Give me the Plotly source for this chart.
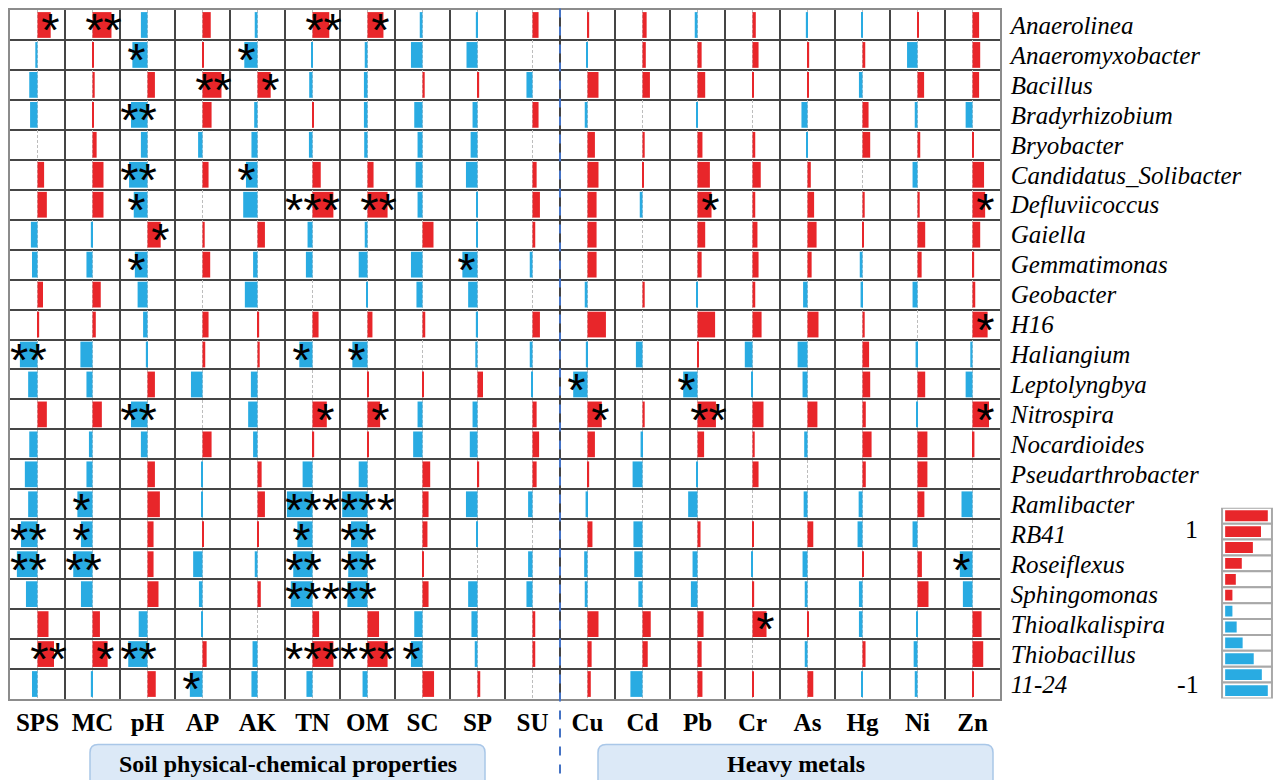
import plotly.graph_objects as go

# ---------------- data ----------------
genera = ["Anaerolinea", "Anaeromyxobacter", "Bacillus", "Bradyrhizobium", "Bryobacter",
          "Candidatus_Solibacter", "Defluviicoccus", "Gaiella", "Gemmatimonas", "Geobacter",
          "H16", "Haliangium", "Leptolyngbya", "Nitrospira", "Nocardioides",
          "Pseudarthrobacter", "Ramlibacter", "RB41", "Roseiflexus", "Sphingomonas",
          "Thioalkalispira", "Thiobacillus", "11-24"]

soil_vars = ["SPS", "MC", "pH", "AP", "AK", "TN", "OM", "SC", "SP", "SU"]
metal_vars = ["Cu", "Cd", "Pb", "Cr", "As", "Hg", "Ni", "Zn"]

# correlation coefficients, one row per genus (soil properties)
soil_corr = [
    [0.48, 0.69, -0.24, 0.30, -0.10, 0.61, 0.58, -0.10, -0.06, 0.22],
    [-0.08, 0.05, -0.55, 0.03, -0.48, -0.03, -0.10, -0.42, -0.40, 0.00],
    [-0.30, 0.08, 0.27, 0.69, 0.48, -0.12, -0.13, 0.08, 0.06, -0.22],
    [-0.27, 0.04, -0.60, 0.33, -0.12, 0.04, -0.13, -0.30, -0.18, 0.22],
    [0.00, 0.15, -0.24, -0.16, -0.22, -0.13, -0.12, -0.18, -0.25, 0.00],
    [0.24, 0.40, -0.67, 0.22, -0.42, 0.30, 0.22, -0.25, -0.42, 0.15],
    [0.34, 0.40, -0.50, 0.00, -0.52, 0.76, 0.73, -0.18, -0.03, 0.27],
    [-0.24, -0.06, 0.48, 0.08, 0.27, -0.18, -0.10, 0.40, -0.03, 0.10],
    [-0.20, -0.22, -0.46, 0.28, -0.16, -0.24, -0.32, -0.42, -0.55, -0.10],
    [0.20, 0.30, -0.36, 0.00, -0.46, 0.00, -0.04, -0.22, -0.34, 0.00],
    [0.06, 0.12, -0.16, 0.22, 0.06, 0.22, 0.18, 0.10, -0.06, 0.27],
    [-0.64, -0.44, -0.06, 0.10, 0.08, -0.48, -0.55, 0.00, -0.08, -0.10],
    [-0.34, -0.22, 0.27, -0.42, -0.24, 0.00, 0.05, 0.05, 0.20, -0.03],
    [0.34, 0.34, -0.60, 0.00, -0.34, 0.52, 0.46, -0.18, -0.18, 0.15],
    [-0.30, -0.13, -0.24, 0.33, -0.16, 0.06, 0.05, -0.34, -0.28, 0.24],
    [-0.46, -0.22, 0.27, -0.03, 0.15, -0.36, -0.32, 0.28, 0.06, 0.15],
    [-0.34, -0.55, 0.45, -0.04, 0.27, -0.93, -0.92, 0.22, -0.42, -0.16],
    [-0.60, -0.42, 0.22, 0.03, 0.04, -0.55, -0.60, 0.18, -0.03, 0.00],
    [-0.75, -0.70, 0.22, -0.34, -0.10, -0.70, -0.70, 0.05, 0.00, -0.16],
    [-0.42, -0.42, 0.40, -0.13, 0.12, -0.79, -0.73, 0.22, -0.34, -0.22],
    [0.40, 0.27, -0.32, -0.03, 0.00, 0.24, 0.42, -0.30, -0.22, 0.10],
    [0.60, 0.55, -0.70, 0.15, -0.18, 0.76, 0.73, -0.42, -0.10, 0.10],
    [-0.20, -0.06, 0.30, -0.46, -0.22, -0.22, -0.18, 0.42, 0.10, 0.00],
]

# correlation coefficients, one row per genus (heavy metals)
metal_corr = [
    [0.06, 0.15, -0.10, 0.12, -0.06, -0.04, 0.04, 0.24],
    [-0.05, 0.12, 0.15, 0.22, 0.06, 0.10, -0.38, 0.28],
    [0.40, 0.27, 0.28, 0.04, 0.04, -0.13, 0.24, 0.24],
    [-0.10, 0.00, -0.03, 0.00, -0.22, 0.22, -0.10, -0.25],
    [0.27, 0.08, 0.18, 0.10, -0.04, 0.28, 0.10, 0.03],
    [0.40, 0.03, 0.45, 0.30, 0.12, 0.00, -0.18, 0.42],
    [0.33, -0.10, 0.51, 0.10, 0.24, 0.08, 0.08, 0.46],
    [0.33, 0.00, 0.28, 0.18, 0.33, 0.03, 0.28, 0.28],
    [0.33, 0.00, 0.15, 0.22, 0.15, -0.10, 0.15, 0.06],
    [-0.10, 0.08, -0.04, 0.10, -0.16, -0.07, -0.18, 0.10],
    [0.67, 0.00, 0.64, 0.33, 0.40, 0.08, 0.00, 0.55],
    [-0.06, -0.24, 0.03, -0.28, -0.36, 0.24, -0.07, -0.08],
    [-0.52, 0.00, -0.52, -0.04, -0.18, 0.28, 0.28, -0.25],
    [0.52, 0.08, 0.67, 0.40, 0.36, 0.12, -0.03, 0.60],
    [0.27, -0.07, 0.24, 0.08, -0.12, 0.33, 0.36, 0.07],
    [0.06, -0.36, -0.03, 0.22, 0.00, 0.12, 0.36, 0.00],
    [-0.07, 0.00, -0.34, 0.00, -0.14, -0.14, 0.25, -0.40],
    [0.18, -0.33, 0.11, 0.04, 0.21, -0.18, -0.18, 0.00],
    [-0.12, -0.30, -0.18, -0.05, -0.18, 0.03, 0.16, -0.46],
    [-0.10, -0.15, -0.24, 0.06, -0.10, -0.13, 0.40, -0.35],
    [0.40, 0.30, 0.22, 0.51, 0.05, -0.13, -0.04, 0.33],
    [0.15, 0.19, 0.15, 0.00, -0.10, 0.11, -0.14, 0.39],
    [0.12, -0.44, 0.18, 0.03, 0.21, -0.04, -0.10, 0.04],
]

# significance marks: (genus, variable, stars)
significance = [
    ("Anaerolinea", "SPS", "*"), ("Anaerolinea", "MC", "**"), ("Anaerolinea", "TN", "**"), ("Anaerolinea", "OM", "*"),
    ("Anaeromyxobacter", "pH", "*"), ("Anaeromyxobacter", "AK", "*"),
    ("Bacillus", "AP", "**"), ("Bacillus", "AK", "*"),
    ("Bradyrhizobium", "pH", "**"),
    ("Candidatus_Solibacter", "pH", "**"), ("Candidatus_Solibacter", "AK", "*"),
    ("Defluviicoccus", "pH", "*"), ("Defluviicoccus", "TN", "***"), ("Defluviicoccus", "OM", "**"),
    ("Defluviicoccus", "Pb", "*"), ("Defluviicoccus", "Zn", "*"),
    ("Gaiella", "pH", "*"),
    ("Gemmatimonas", "pH", "*"), ("Gemmatimonas", "SP", "*"),
    ("H16", "Zn", "*"),
    ("Haliangium", "SPS", "**"), ("Haliangium", "TN", "*"), ("Haliangium", "OM", "*"),
    ("Leptolyngbya", "Cu", "*"), ("Leptolyngbya", "Pb", "*"),
    ("Nitrospira", "pH", "**"), ("Nitrospira", "TN", "*"), ("Nitrospira", "OM", "*"),
    ("Nitrospira", "Cu", "*"), ("Nitrospira", "Pb", "**"), ("Nitrospira", "Zn", "*"),
    ("Ramlibacter", "MC", "*"), ("Ramlibacter", "TN", "***"), ("Ramlibacter", "OM", "***"),
    ("RB41", "SPS", "**"), ("RB41", "MC", "*"), ("RB41", "TN", "*"), ("RB41", "OM", "**"),
    ("Roseiflexus", "SPS", "**"), ("Roseiflexus", "MC", "**"), ("Roseiflexus", "TN", "**"),
    ("Roseiflexus", "OM", "**"), ("Roseiflexus", "Zn", "*"),
    ("Sphingomonas", "TN", "***"), ("Sphingomonas", "OM", "**"),
    ("Thioalkalispira", "Cr", "*"),
    ("Thiobacillus", "SPS", "**"), ("Thiobacillus", "MC", "*"), ("Thiobacillus", "pH", "**"),
    ("Thiobacillus", "TN", "***"), ("Thiobacillus", "OM", "***"), ("Thiobacillus", "SC", "*"),
    ("11-24", "AP", "*"),
]

legend_levels = [1.0, 0.84, 0.65, 0.39, 0.25, 0.17, -0.17, -0.27, -0.41, -0.67, -0.86, -1.0]
group_labels = ["Soil physical-chemical properties", "Heavy metals"]

# ---------------- style ----------------
RED = "#E8262A"
BLUE = "#29ABE2"
FONT = "Liberation Serif"
W, H = 1279, 780
ML, MR, MT, MB = 10, 5, 9.5, 80.5
PW, PH = W - ML - MR, H - MT - MB


def px_x(p):
    return (p - ML) / PW


def px_y(p):
    return (H - MB - p) / PH


variables = soil_vars + metal_vars
centers = [2 * j + 1 for j in range(len(variables))]

pos = dict(x=[], y=[], b=[])
neg = dict(x=[], y=[], b=[])
for i, g in enumerate(genera):
    row = soil_corr[i] + metal_corr[i]
    for j, v in enumerate(row):
        d = pos if v >= 0 else neg
        d["x"].append(v)
        d["y"].append(i)
        d["b"].append(centers[j])

fig = go.Figure()
for d, c in ((pos, RED), (neg, BLUE)):
    fig.add_trace(go.Bar(orientation="h", x=d["x"], y=d["y"], base=d["b"], width=0.86,
                         marker=dict(color=c, line=dict(width=0)),
                         showlegend=False, hoverinfo="skip", xaxis="x", yaxis="y"))

# stars
off_pos = {"*": 0.47, "**": 0.40, "***": 0.0}
off_neg = {"*": -0.40, "**": -0.33, "***": 0.0}
sx, sy, st = [], [], []
for g, var, s in significance:
    i = genera.index(g)
    j = variables.index(var)
    v = (soil_corr[i] + metal_corr[i])[j]
    off = off_pos[s] if v >= 0 else off_neg[s]
    sx.append(centers[j] + off)
    sy.append(i + 0.32)
    st.append(s)
fig.add_trace(go.Scatter(x=sx, y=sy, text=st, mode="text", textposition="middle center",
                         textfont=dict(family="Liberation Sans", size=47, color="black"),
                         showlegend=False, hoverinfo="skip", xaxis="x", yaxis="y", cliponaxis=False))

# legend (colour key)
nL = len(legend_levels)
fig.add_trace(go.Bar(orientation="h", x=[0.96] * nL, y=list(range(nL)), base=0.02, width=1.0,
                     marker=dict(color="white", line=dict(color="#A8A8A8", width=2)),
                     showlegend=False, hoverinfo="skip", xaxis="x2", yaxis="y2"))
fig.add_trace(go.Bar(orientation="h", x=[abs(v) * 0.82 for v in legend_levels], y=list(range(nL)),
                     base=0.08, width=0.68,
                     marker=dict(color=[RED if v > 0 else BLUE for v in legend_levels], line=dict(width=0)),
                     showlegend=False, hoverinfo="skip", xaxis="x2", yaxis="y2"))

grid_col = "#454545"
fig.update_layout(
    width=W, height=H, margin=dict(l=ML, r=MR, t=MT, b=MB),
    paper_bgcolor="white", plot_bgcolor="white", barmode="overlay",
    xaxis=dict(domain=[0, px_x(1000)], range=[0, 2 * len(variables)], tickmode="array",
               tickvals=centers, ticktext=["<b>%s</b>" % v for v in variables],
               tickfont=dict(family=FONT, size=25, color="black"),
               showgrid=True, gridcolor="#BDBDBD", gridwidth=1, griddash="3px,2px",
               minor=dict(tickmode="array", tickvals=list(range(0, 2 * len(variables) + 1, 2)),
                          showgrid=True, gridcolor=grid_col, gridwidth=1.5, griddash="solid", ticks=""),
               zeroline=False, showline=True, mirror=True, linecolor="#8C8C8C", linewidth=1.5,
               ticks="", ticklabelstandoff=0, fixedrange=True),
    yaxis=dict(domain=[0, 1], range=[len(genera) - 0.5, -0.5], tickmode="array",
               tickvals=list(range(len(genera))), ticktext=["<i>%s</i>" % g for g in genera],
               side="right", tickfont=dict(family=FONT, size=25, color="black"),
               showgrid=False,
               minor=dict(tickmode="array", tickvals=[k - 0.5 for k in range(len(genera) + 1)],
                          showgrid=True, gridcolor=grid_col, gridwidth=1.5, griddash="solid", ticks=""),
               zeroline=False, showline=True, mirror=True, linecolor="#8C8C8C", linewidth=1.5,
               ticks="", ticklabelstandoff=4, fixedrange=True),
    xaxis2=dict(domain=[px_x(1221), px_x(1273)], anchor="y2", range=[0, 1],
                showticklabels=False, showgrid=False, zeroline=False, fixedrange=True),
    yaxis2=dict(domain=[px_y(699), px_y(508)], anchor="x2", range=[nL - 0.5, -0.5],
                showticklabels=False, showgrid=False, zeroline=False, fixedrange=True),
)

# separator between groups
fig.add_shape(type="line", xref="x", yref="paper", x0=2 * len(soil_vars), x1=2 * len(soil_vars),
              y0=px_y(8), y1=px_y(785), line=dict(color="#4472C4", width=2, dash="dash"), layer="above")


def rounded_box(x0, y0, x1, y1, r=8):
    X0, X1 = px_x(x0), px_x(x1)
    Y0, Y1 = px_y(y0), px_y(y1)
    rx, ry = r / PW, r / PH
    return (f"M {X0+rx},{Y0} L {X1-rx},{Y0} Q {X1},{Y0} {X1},{Y0-ry} L {X1},{Y1+ry} "
            f"Q {X1},{Y1} {X1-rx},{Y1} L {X0+rx},{Y1} Q {X0},{Y1} {X0},{Y1+ry} "
            f"L {X0},{Y0-ry} Q {X0},{Y0} {X0+rx},{Y0} Z")


boxes = [(90, 485), (598, 993)]
for (bx0, bx1), lab in zip(boxes, group_labels):
    fig.add_shape(type="path", xref="paper", yref="paper", path=rounded_box(bx0, 745, bx1, 795),
                  fillcolor="#DCE9F7", line=dict(color="#A9C7E8", width=1.5), layer="below")
    fig.add_annotation(xref="paper", yref="paper", x=px_x((bx0 + bx1) / 2), y=px_y(765),
                       text="<b>%s</b>" % lab, showarrow=False,
                       font=dict(family=FONT, size=24, color="black"), xanchor="center", yanchor="middle")

fig.add_annotation(xref="paper", yref="paper", x=px_x(1191), y=px_y(530), text="1", showarrow=False,
                   font=dict(family=FONT, size=26, color="black"), xanchor="center", yanchor="middle")
fig.add_annotation(xref="paper", yref="paper", x=px_x(1188), y=px_y(685), text="-1", showarrow=False,
                   font=dict(family=FONT, size=26, color="black"), xanchor="center", yanchor="middle")

fig.write_html("out.html", config={"displayModeBar": False},
               post_script="document.body.style.margin='0';")
